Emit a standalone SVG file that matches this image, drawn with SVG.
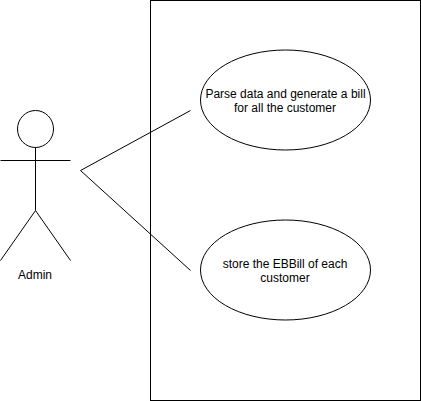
<svg xmlns="http://www.w3.org/2000/svg" width="421" height="401" viewBox="0 0 421 401">
<style>
.s{fill:none;stroke:#000;stroke-width:1}
.f{fill:#fff;stroke:#000;stroke-width:1}
.t{font-family:"Liberation Sans",Arial,sans-serif;font-size:12px;fill:#000;text-anchor:middle}
</style>
<rect width="421" height="401" fill="#fff"/>
<g id="system"><rect x="150.5" y="0.5" width="270" height="400" class="s"/></g>
<g id="connectors">
<path d="M80.5 170.5L190.5 110.5" class="s"/>
<path d="M80.5 170.5L190.5 270.5" class="s"/>
</g>
<g id="actor-admin">
<ellipse cx="35.5" cy="129" rx="18" ry="18.5" class="f"/>
<path d="M35.5 147.5V210.5M0.5 160.5H70.5M0.5 260.5L35.5 210.5L70.5 260.5" class="s"/>
<text x="35" y="279" class="t">Admin</text>
</g>
<g id="usecase-parse">
<ellipse cx="285.5" cy="100" rx="85" ry="50" class="f"/>
<text x="285.5" y="98" class="t">Parse data and generate a bill</text>
<text x="285" y="112" class="t">for all the customer</text>
</g>
<g id="usecase-store">
<ellipse cx="285.5" cy="270" rx="85" ry="50" class="f"/>
<text x="285" y="268" class="t">store the EBBill of each</text>
<text x="285" y="282" class="t">customer</text>
</g>
</svg>
